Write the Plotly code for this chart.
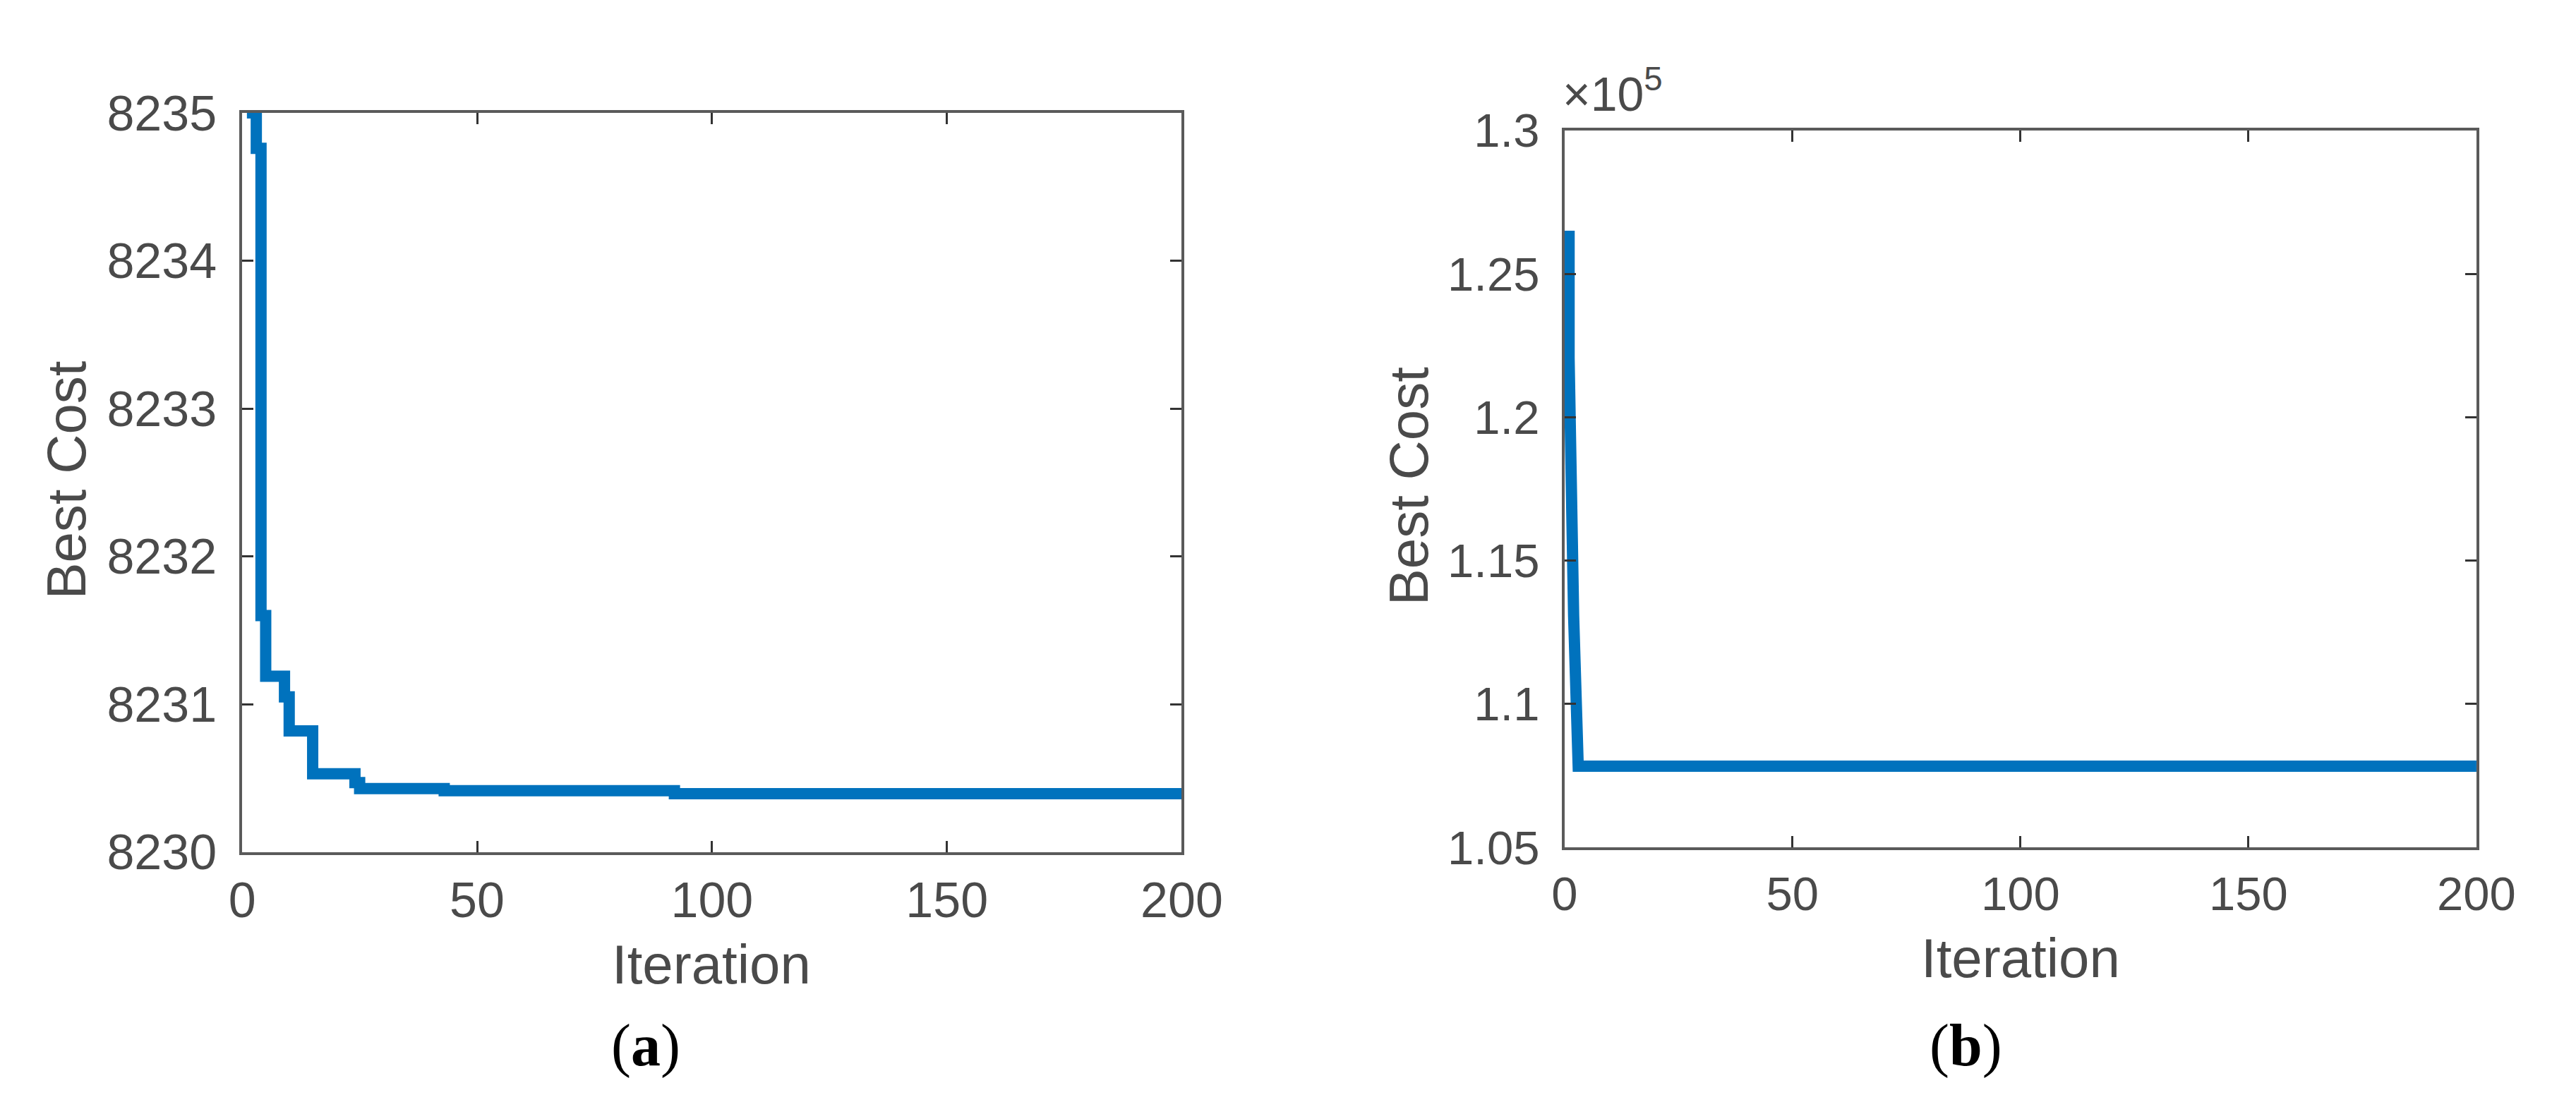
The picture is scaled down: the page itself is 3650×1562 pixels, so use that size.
import plotly.graph_objects as go

# (a) best cost per iteration at the points where it changes
iters_a = [1, 3, 4, 5, 9, 10, 15, 24, 25, 43, 92, 200]
cost_a = [8235.0, 8234.76, 8231.6, 8231.19, 8231.05, 8230.82, 8230.53,
          8230.47, 8230.43, 8230.415, 8230.395, 8230.395]

# (b) best cost per iteration
iters_b = [1, 1, 2, 3, 200]
cost_b = [126500, 122070, 113070, 107830, 107830]

x_ticks = [0, 50, 100, 150, 200]
y_ticks_a = [8230, 8231, 8232, 8233, 8234, 8235]
y_ticks_b = [105000, 110000, 115000, 120000, 125000, 130000]
y_labels_b = ["1.05", "1.1", "1.15", "1.2", "1.25", "1.3"]

W, H = 3650, 1562
LINE = "#0072BD"
AXIS = "#5a5a5a"
TEXT = "#4a4a4a"
FONT = "Liberation Sans"


def px(x):
    return x / W


def py(y):
    return 1 - y / H


def axis_style(size):
    return dict(
        showline=True,
        linecolor=AXIS,
        linewidth=4,
        mirror="ticks",
        ticks="inside",
        ticklen=16,
        tickwidth=3,
        tickcolor="#333333",
        showgrid=False,
        zeroline=False,
        tickfont=dict(family=FONT, size=size, color=TEXT),
        fixedrange=True,
    )


fig = go.Figure()

fig.add_trace(
    go.Scatter(
        x=iters_a,
        y=cost_a,
        mode="lines",
        line=dict(color=LINE, width=16, shape="hv"),
        xaxis="x",
        yaxis="y",
        showlegend=False,
    )
)

fig.add_trace(
    go.Scatter(
        x=iters_b,
        y=cost_b,
        mode="lines",
        line=dict(color=LINE, width=16),
        xaxis="x2",
        yaxis="y2",
        showlegend=False,
    )
)

fig.update_layout(
    width=W,
    height=H,
    margin=dict(l=0, r=0, t=0, b=0),
    paper_bgcolor="white",
    plot_bgcolor="white",
    xaxis=dict(
        domain=[px(323), px(1683)],
        range=[0, 200],
        tickvals=x_ticks,
        anchor="y",
        ticklabelstandoff=4,
        **axis_style(70),
    ),
    yaxis=dict(
        domain=[py(1222), py(120)],
        range=[8230, 8235],
        tickvals=y_ticks_a,
        anchor="x",
        ticklabelstandoff=18,
        **axis_style(70),
    ),
    xaxis2=dict(
        domain=[px(2237), px(3557)],
        range=[0, 200],
        tickvals=x_ticks,
        anchor="y2",
        ticklabelstandoff=4,
        **axis_style(67),
    ),
    yaxis2=dict(
        domain=[py(1215), py(146)],
        range=[105000, 130000],
        tickvals=y_ticks_b,
        ticktext=y_labels_b,
        anchor="x2",
        ticklabelstandoff=18,
        **axis_style(67),
    ),
)

title_font = dict(family=FONT, size=78, color=TEXT)
caption_font = dict(family="Liberation Serif", size=84, color="black")

annotations = [
    # axis titles
    dict(text="Best Cost", x=px(69), y=py(668), textangle=-90, font=title_font),
    dict(text="Iteration", x=px(1002), y=py(1390), font=title_font),
    dict(text="Best Cost", x=px(2011), y=py(677), textangle=-90, font=title_font),
    dict(text="Iteration", x=px(2897), y=py(1380), font=title_font),
    # exponent label
    dict(text="×10<sup>5</sup>", x=px(2232), y=py(134), xanchor="left",
         yanchor="bottom", font=dict(family=FONT, size=68, color=TEXT)),
    # panel captions
    dict(text="(<b>a</b>)", x=px(907), y=py(1510), font=caption_font),
    dict(text="(<b>b</b>)", x=px(2818), y=py(1510), font=caption_font),
]

for a in annotations:
    a.setdefault("xanchor", "center")
    a.setdefault("yanchor", "middle")
    fig.add_annotation(xref="paper", yref="paper", showarrow=False, **a)

fig.write_html("out.html")
